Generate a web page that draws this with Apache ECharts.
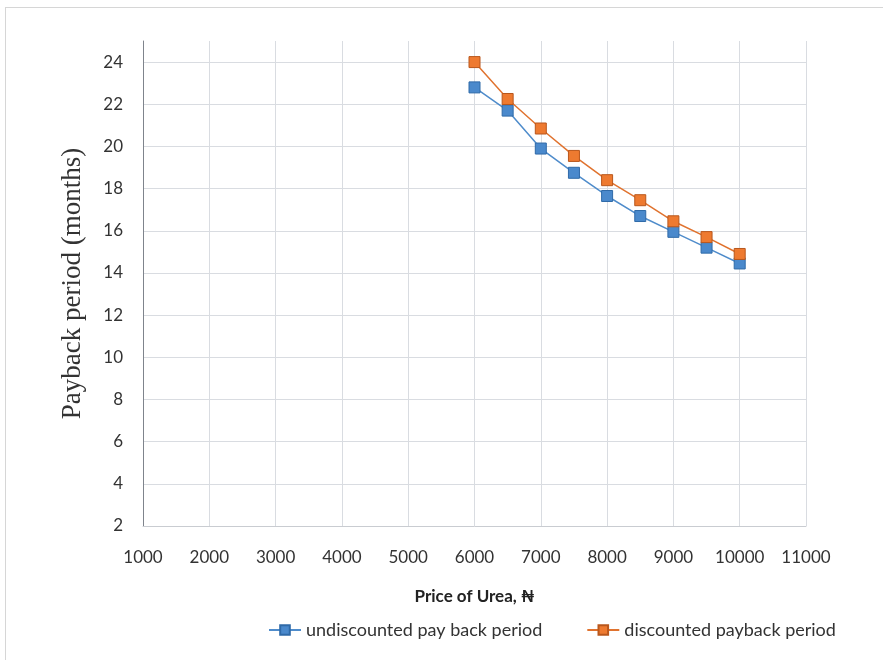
<!DOCTYPE html>
<html>
<head>
<meta charset="utf-8">
<script src="https://cdn.jsdelivr.net/npm/echarts@6/dist/echarts.min.js"></script>
<style>
  html, body { margin: 0; padding: 0; background: #fff; }
  #frame { position: absolute; left: 5px; top: 7px; width: 890px; height: 660px; border: 1px solid #d6d6d6; box-sizing: border-box; }
  #chart { width: 883px; height: 660px; position: absolute; left: 0; top: 0; }
</style>
</head>
<body>
<div id="frame"></div>
<div id="chart"></div>
<script>
// Price of urea (Naira) and payback periods (months)
const prices = [6000, 6500, 7000, 7500, 8000, 8500, 9000, 9500, 10000];
const undiscounted = [22.8, 21.7, 19.9, 18.75, 17.65, 16.7, 15.95, 15.2, 14.45];
const discounted = [24.0, 22.25, 20.85, 19.55, 18.4, 17.45, 16.45, 15.7, 14.9];

const seriesNames = ['undiscounted pay back period', 'discounted payback period'];
const xAxisTitle = 'Price of Urea, \u20A6';
const yAxisTitle = 'Payback period (months)';

const pairs = (xs, ys) => xs.map((x, i) => [x, ys[i]]);

const labelFont = 'Lato, "Open Sans", sans-serif';

const chart = echarts.init(document.getElementById('chart'), null, { renderer: 'canvas' });
chart.setOption({
  animation: false,
  backgroundColor: 'transparent',
  grid: { left: 143, right: 77, top: 41, bottom: 134, containLabel: false },
  xAxis: {
    type: 'value',
    min: 1000, max: 11000, interval: 1000,
    name: xAxisTitle,
    nameLocation: 'middle',
    nameGap: 62,
    nameTextStyle: { fontFamily: labelFont, fontWeight: 'bold', fontSize: 17, color: '#222' },
    axisLine: { show: true, lineStyle: { color: '#c9ccd1', width: 1 } },
    axisTick: { show: false },
    axisLabel: { fontFamily: labelFont, fontSize: 17, color: '#333', margin: 23, formatter: v => String(v) },
    splitLine: { show: true, lineStyle: { color: '#d9dce1', width: 1 } }
  },
  yAxis: {
    type: 'value',
    min: 2, max: 25, interval: 2,
    name: yAxisTitle,
    nameLocation: 'middle',
    nameGap: 57,
    nameTextStyle: { fontFamily: '"Liberation Serif", "DejaVu Serif", serif', fontSize: 27, color: '#333' },
    axisLine: { show: true, lineStyle: { color: '#7f848c', width: 1 } },
    axisTick: { show: false },
    axisLabel: {
      fontFamily: labelFont, fontSize: 17, color: '#333', margin: 20,
      formatter: v => (v > 24 ? '' : String(v))
    },
    splitLine: { show: true, showMaxLine: false, showMinLine: false, lineStyle: { color: '#d9dce1', width: 1 } }
  },
  legend: {
    bottom: 16,
    left: 263,
    itemWidth: 32,
    itemHeight: 12,
    itemGap: 44,
    textStyle: { fontFamily: labelFont, fontSize: 18, color: '#333' },
    data: seriesNames
  },
  series: [
    {
      name: seriesNames[0],
      type: 'line',
      data: pairs(prices, undiscounted),
      symbol: 'rect',
      symbolSize: 11,
      lineStyle: { color: '#4f8ccb', width: 1.5 },
      itemStyle: { color: '#4a89cc', borderColor: '#2f6aa8', borderWidth: 1 },
      z: 3
    },
    {
      name: seriesNames[1],
      type: 'line',
      data: pairs(prices, discounted),
      symbol: 'rect',
      symbolSize: 11,
      lineStyle: { color: '#e0732f', width: 1.5 },
      itemStyle: { color: '#ee7a30', borderColor: '#b9571c', borderWidth: 1 },
      z: 4
    }
  ]
});
</script>
</body>
</html>
